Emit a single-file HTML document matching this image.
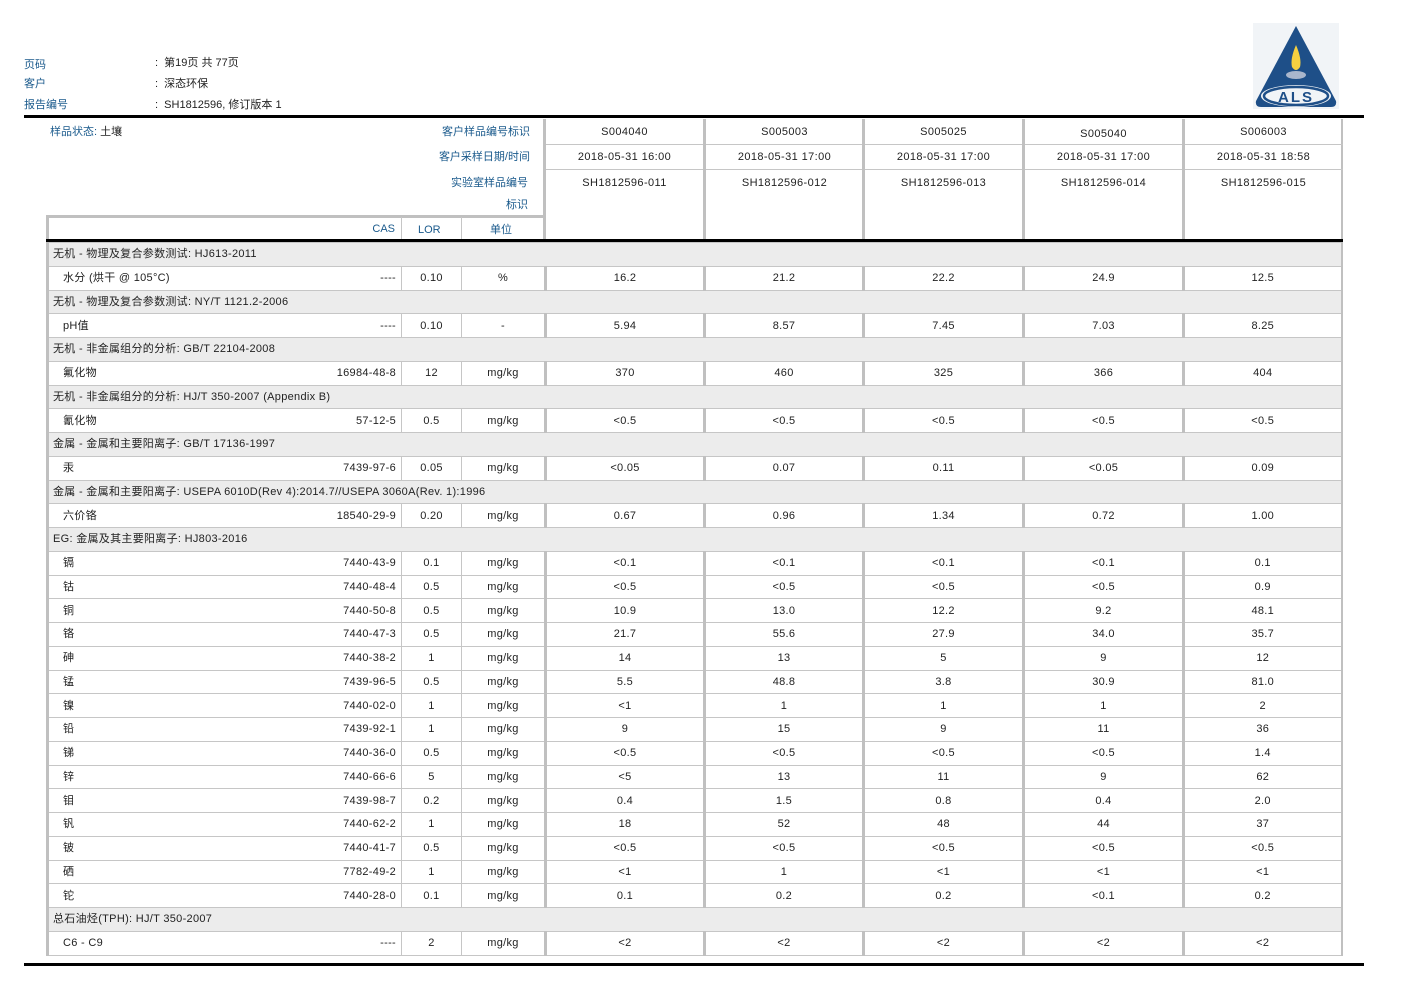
<!DOCTYPE html>
<html><head><meta charset="utf-8"><style>
*{margin:0;padding:0;box-sizing:border-box}
body{width:1402px;height:992px;background:#fff;position:relative;overflow:hidden;font-family:"Liberation Sans","Noto Sans CJK SC",sans-serif;font-size:11px;color:#222}
.a{position:absolute;white-space:nowrap;line-height:14px}
.b{color:#1a5a8c}
table{position:absolute;left:46px;top:242px;border-collapse:collapse;table-layout:fixed}
td{height:23.75px;border:1px solid #c6c6c6;padding:0;text-align:center;vertical-align:middle;line-height:14px;white-space:nowrap;overflow:hidden;letter-spacing:0.3px}
td.n{text-align:left;padding-left:14px;border-left:3px solid #c0c0c0}
td.n span{float:right;padding-right:5px}
td.s{border-left:3px solid #c0c0c0}
td.l{border-right:2px solid #c0c0c0}
tr.g td{background:#ececec;text-align:left;padding-left:4px;border-left:3px solid #c0c0c0;border-right:2px solid #c0c0c0}
</style></head><body>
<div class="a b" style="left:24px;top:58px">页码</div>
<div class="a b" style="left:24px;top:77px">客户</div>
<div class="a b" style="left:24px;top:98px">报告编号</div>
<div class="a" style="left:155px;top:56px">:&nbsp; 第19页 共 77页</div>
<div class="a" style="left:155px;top:77px">:&nbsp; 深态环保</div>
<div class="a" style="left:155px;top:98px">:&nbsp; SH1812596, 修订版本 1</div>
<svg style="position:absolute;left:1253px;top:23px" width="86" height="86" viewBox="0 0 86 86">
<rect width="86" height="86" fill="#f1f4f7"/>
<path d="M43 3 L83 78 Q84 84 78 84 L8 84 Q2 84 3 78 Z" fill="#1e4f88"/>
<ellipse cx="43" cy="73" rx="35" ry="11" fill="#f1f4f7"/>
<ellipse cx="43" cy="73" rx="32" ry="9" fill="#f1f4f7" stroke="#1e4f88" stroke-width="2.5"/>
<path d="M43 22 Q49 36 47 44 Q43 50 39 44 Q37 36 43 22Z" fill="#f5d040"/>
<ellipse cx="43" cy="52" rx="10" ry="4" fill="#a9b6cc"/>
<text x="43" y="79" text-anchor="middle" font-family="Liberation Sans" font-weight="bold" font-size="15" fill="#1e4f88" letter-spacing="2">ALS</text>
</svg>
<div style="position:absolute;left:24px;top:115px;width:1340px;height:3px;background:#000"></div>
<div style="position:absolute;left:24px;top:963px;width:1340px;height:3px;background:#000"></div>
<div class="a b" style="left:50px;top:125px">样品状态: <span style="color:#222">土壤</span></div>
<div class="a b" style="right:872px;top:125px">客户样品编号标识</div>
<div class="a b" style="right:872px;top:150px">客户采样日期/时间</div>
<div class="a b" style="right:874px;top:176px">实验室样品编号</div>
<div class="a b" style="right:874px;top:198px">标识</div>
<div style="position:absolute;left:46px;top:215px;width:499px;height:25px;border:1px solid #c0c0c0;border-left:3px solid #c0c0c0;border-top:3px solid #c0c0c0;border-bottom:none"></div>
<div style="position:absolute;left:401px;top:217px;width:1px;height:23px;background:#c6c6c6"></div>
<div style="position:absolute;left:461px;top:217px;width:1px;height:23px;background:#c6c6c6"></div>
<div class="a b" style="right:1007px;top:222px">CAS</div>
<div class="a b" style="left:418px;top:223px">LOR</div>
<div class="a b" style="left:490px;top:223px">单位</div>
<div style="position:absolute;left:543px;top:119px;width:800px;height:121px;border-right:2px solid #c0c0c0"></div>
<div style="position:absolute;left:543px;top:144px;width:800px;height:1px;background:#c6c6c6"></div>
<div style="position:absolute;left:543px;top:169px;width:800px;height:1px;background:#c6c6c6"></div>
<div style="position:absolute;left:543px;top:119px;width:3px;height:121px;background:#c0c0c0"></div>
<div style="position:absolute;left:703px;top:119px;width:3px;height:121px;background:#c0c0c0"></div>
<div style="position:absolute;left:862px;top:119px;width:3px;height:121px;background:#c0c0c0"></div>
<div style="position:absolute;left:1022px;top:119px;width:3px;height:121px;background:#c0c0c0"></div>
<div style="position:absolute;left:1182px;top:119px;width:3px;height:121px;background:#c0c0c0"></div>
<div class="a" style="left:546px;width:157px;text-align:center;top:125px;letter-spacing:.4px">S004040</div>
<div class="a" style="left:706px;width:157px;text-align:center;top:125px;letter-spacing:.4px">S005003</div>
<div class="a" style="left:865px;width:157px;text-align:center;top:125px;letter-spacing:.4px">S005025</div>
<div class="a" style="left:1025px;width:157px;text-align:center;top:127px;letter-spacing:.4px">S005040</div>
<div class="a" style="left:1185px;width:157px;text-align:center;top:125px;letter-spacing:.4px">S006003</div>
<div class="a" style="left:546px;width:157px;text-align:center;top:150px;letter-spacing:.4px">2018-05-31 16:00</div>
<div class="a" style="left:706px;width:157px;text-align:center;top:150px;letter-spacing:.4px">2018-05-31 17:00</div>
<div class="a" style="left:865px;width:157px;text-align:center;top:150px;letter-spacing:.4px">2018-05-31 17:00</div>
<div class="a" style="left:1025px;width:157px;text-align:center;top:150px;letter-spacing:.4px">2018-05-31 17:00</div>
<div class="a" style="left:1185px;width:157px;text-align:center;top:150px;letter-spacing:.4px">2018-05-31 18:58</div>
<div class="a" style="left:546px;width:157px;text-align:center;top:176px;letter-spacing:.4px">SH1812596-011</div>
<div class="a" style="left:706px;width:157px;text-align:center;top:176px;letter-spacing:.4px">SH1812596-012</div>
<div class="a" style="left:865px;width:157px;text-align:center;top:176px;letter-spacing:.4px">SH1812596-013</div>
<div class="a" style="left:1025px;width:157px;text-align:center;top:176px;letter-spacing:.4px">SH1812596-014</div>
<div class="a" style="left:1185px;width:157px;text-align:center;top:176px;letter-spacing:.4px">SH1812596-015</div>
<div style="position:absolute;left:46px;top:239px;width:1297px;height:3px;background:#000"></div>
<table>
<colgroup><col style="width:354px"><col style="width:60px"><col style="width:84px"><col style="width:159px"><col style="width:159px"><col style="width:160px"><col style="width:160px"><col style="width:158px"></colgroup>
<tr class="g"><td colspan="8">无机 - 物理及复合参数测试: HJ613-2011</td></tr>
<tr><td class="n">水分 (烘干 @ 105°C)<span>----</span></td><td>0.10</td><td>%</td><td class="s">16.2</td><td class="s">21.2</td><td class="s">22.2</td><td class="s">24.9</td><td class="s l">12.5</td></tr>
<tr class="g"><td colspan="8">无机 - 物理及复合参数测试: NY/T 1121.2-2006</td></tr>
<tr><td class="n">pH值<span>----</span></td><td>0.10</td><td>-</td><td class="s">5.94</td><td class="s">8.57</td><td class="s">7.45</td><td class="s">7.03</td><td class="s l">8.25</td></tr>
<tr class="g"><td colspan="8">无机 - 非金属组分的分析: GB/T 22104-2008</td></tr>
<tr><td class="n">氟化物<span>16984-48-8</span></td><td>12</td><td>mg/kg</td><td class="s">370</td><td class="s">460</td><td class="s">325</td><td class="s">366</td><td class="s l">404</td></tr>
<tr class="g"><td colspan="8">无机 - 非金属组分的分析: HJ/T 350-2007 (Appendix B)</td></tr>
<tr><td class="n">氰化物<span>57-12-5</span></td><td>0.5</td><td>mg/kg</td><td class="s">&lt;0.5</td><td class="s">&lt;0.5</td><td class="s">&lt;0.5</td><td class="s">&lt;0.5</td><td class="s l">&lt;0.5</td></tr>
<tr class="g"><td colspan="8">金属 - 金属和主要阳离子: GB/T 17136-1997</td></tr>
<tr><td class="n">汞<span>7439-97-6</span></td><td>0.05</td><td>mg/kg</td><td class="s">&lt;0.05</td><td class="s">0.07</td><td class="s">0.11</td><td class="s">&lt;0.05</td><td class="s l">0.09</td></tr>
<tr class="g"><td colspan="8">金属 - 金属和主要阳离子: USEPA 6010D(Rev 4):2014.7//USEPA 3060A(Rev. 1):1996</td></tr>
<tr><td class="n">六价铬<span>18540-29-9</span></td><td>0.20</td><td>mg/kg</td><td class="s">0.67</td><td class="s">0.96</td><td class="s">1.34</td><td class="s">0.72</td><td class="s l">1.00</td></tr>
<tr class="g"><td colspan="8">EG: 金属及其主要阳离子: HJ803-2016</td></tr>
<tr><td class="n">镉<span>7440-43-9</span></td><td>0.1</td><td>mg/kg</td><td class="s">&lt;0.1</td><td class="s">&lt;0.1</td><td class="s">&lt;0.1</td><td class="s">&lt;0.1</td><td class="s l">0.1</td></tr>
<tr><td class="n">钴<span>7440-48-4</span></td><td>0.5</td><td>mg/kg</td><td class="s">&lt;0.5</td><td class="s">&lt;0.5</td><td class="s">&lt;0.5</td><td class="s">&lt;0.5</td><td class="s l">0.9</td></tr>
<tr><td class="n">铜<span>7440-50-8</span></td><td>0.5</td><td>mg/kg</td><td class="s">10.9</td><td class="s">13.0</td><td class="s">12.2</td><td class="s">9.2</td><td class="s l">48.1</td></tr>
<tr><td class="n">铬<span>7440-47-3</span></td><td>0.5</td><td>mg/kg</td><td class="s">21.7</td><td class="s">55.6</td><td class="s">27.9</td><td class="s">34.0</td><td class="s l">35.7</td></tr>
<tr><td class="n">砷<span>7440-38-2</span></td><td>1</td><td>mg/kg</td><td class="s">14</td><td class="s">13</td><td class="s">5</td><td class="s">9</td><td class="s l">12</td></tr>
<tr><td class="n">锰<span>7439-96-5</span></td><td>0.5</td><td>mg/kg</td><td class="s">5.5</td><td class="s">48.8</td><td class="s">3.8</td><td class="s">30.9</td><td class="s l">81.0</td></tr>
<tr><td class="n">镍<span>7440-02-0</span></td><td>1</td><td>mg/kg</td><td class="s">&lt;1</td><td class="s">1</td><td class="s">1</td><td class="s">1</td><td class="s l">2</td></tr>
<tr><td class="n">铅<span>7439-92-1</span></td><td>1</td><td>mg/kg</td><td class="s">9</td><td class="s">15</td><td class="s">9</td><td class="s">11</td><td class="s l">36</td></tr>
<tr><td class="n">锑<span>7440-36-0</span></td><td>0.5</td><td>mg/kg</td><td class="s">&lt;0.5</td><td class="s">&lt;0.5</td><td class="s">&lt;0.5</td><td class="s">&lt;0.5</td><td class="s l">1.4</td></tr>
<tr><td class="n">锌<span>7440-66-6</span></td><td>5</td><td>mg/kg</td><td class="s">&lt;5</td><td class="s">13</td><td class="s">11</td><td class="s">9</td><td class="s l">62</td></tr>
<tr><td class="n">钼<span>7439-98-7</span></td><td>0.2</td><td>mg/kg</td><td class="s">0.4</td><td class="s">1.5</td><td class="s">0.8</td><td class="s">0.4</td><td class="s l">2.0</td></tr>
<tr><td class="n">钒<span>7440-62-2</span></td><td>1</td><td>mg/kg</td><td class="s">18</td><td class="s">52</td><td class="s">48</td><td class="s">44</td><td class="s l">37</td></tr>
<tr><td class="n">铍<span>7440-41-7</span></td><td>0.5</td><td>mg/kg</td><td class="s">&lt;0.5</td><td class="s">&lt;0.5</td><td class="s">&lt;0.5</td><td class="s">&lt;0.5</td><td class="s l">&lt;0.5</td></tr>
<tr><td class="n">硒<span>7782-49-2</span></td><td>1</td><td>mg/kg</td><td class="s">&lt;1</td><td class="s">1</td><td class="s">&lt;1</td><td class="s">&lt;1</td><td class="s l">&lt;1</td></tr>
<tr><td class="n">铊<span>7440-28-0</span></td><td>0.1</td><td>mg/kg</td><td class="s">0.1</td><td class="s">0.2</td><td class="s">0.2</td><td class="s">&lt;0.1</td><td class="s l">0.2</td></tr>
<tr class="g"><td colspan="8">总石油烃(TPH): HJ/T 350-2007</td></tr>
<tr><td class="n">C6 - C9<span>----</span></td><td>2</td><td>mg/kg</td><td class="s">&lt;2</td><td class="s">&lt;2</td><td class="s">&lt;2</td><td class="s">&lt;2</td><td class="s l">&lt;2</td></tr>
</table>
</body></html>
